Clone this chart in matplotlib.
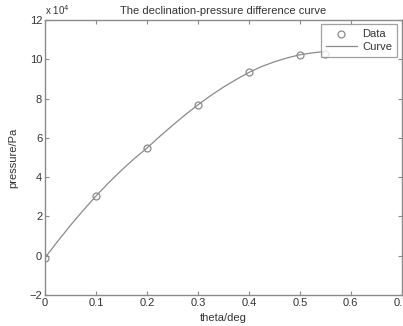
import numpy as np
import matplotlib
matplotlib.use("Agg")
import matplotlib.pyplot as plt

plt.rcParams['font.family'] = ['Liberation Sans', 'DejaVu Sans']

# measured data (pressure in 1e4 Pa)
theta = [0, 0.1, 0.2, 0.3, 0.4, 0.5, 0.55]
pressure = [-0.1, 3.04, 5.48, 7.68, 9.33, 10.23, 10.28]

# fitted curve
curve_theta = [0, 0.025, 0.05, 0.075, 0.1, 0.125, 0.15, 0.175, 0.2, 0.225, 0.25,
               0.275, 0.3, 0.325, 0.35, 0.375, 0.4, 0.425, 0.45, 0.475, 0.5,
               0.525, 0.55]
curve_p = [-0.1, 0.74, 1.55, 2.31, 3.04, 3.72, 4.35, 4.94, 5.48, 6.07, 6.63,
           7.17, 7.68, 8.15, 8.58, 8.97, 9.33, 9.63, 9.87, 10.07, 10.23,
           10.33, 10.40]

xticks = [0, 0.1, 0.2, 0.3, 0.4, 0.5, 0.6, 0.7]
yticks = [-2, 0, 2, 4, 6, 8, 10, 12]

gray = '#8a8a8a'
txt = '#333333'

fig = plt.figure(figsize=(4.03, 3.26), dpi=100)
ax = fig.add_axes([0.1117, 0.095, 0.885, 0.8436])

ax.plot(theta, pressure, 'o', mfc='none', mec=gray, ms=5, mew=0.9, label='Data')
ax.plot(curve_theta, curve_p, '-', color=gray, lw=0.9, label='Curve')

ax.set_xlim(0, 0.7)
ax.set_ylim(-2, 12)
ax.set_xticks(xticks)
ax.set_yticks(yticks)
ax.set_xticklabels(['0', '0.1', '0.2', '0.3', '0.4', '0.5', '0.6', '0.7'])
ax.tick_params(direction='in', top=True, right=True, length=3, width=0.8,
               color=gray, labelsize=8, labelcolor=txt, pad=2)
for s in ax.spines.values():
    s.set_color(gray)
    s.set_linewidth(1.0)

ax.set_title('The declination-pressure difference curve', fontsize=8, color=txt, pad=4)
ax.set_xlabel('theta/deg', fontsize=8, color=txt, labelpad=4)
ax.set_ylabel('pressure/Pa', fontsize=8, color=txt, labelpad=8)
ax.text(0.0, 1.01, r'x 10$^4$', transform=ax.transAxes, fontsize=7, color=txt,
        ha='left', va='bottom')

leg = ax.legend(loc='upper right', fontsize=8, frameon=True, fancybox=False,
                borderpad=0.45, handlelength=2.8, labelspacing=0.25, handletextpad=0.5,
                borderaxespad=0.4)
leg.get_frame().set_edgecolor(gray)
leg.get_frame().set_linewidth(0.9)
for t in leg.get_texts():
    t.set_color(txt)

fig.savefig('out.png', dpi=100)
